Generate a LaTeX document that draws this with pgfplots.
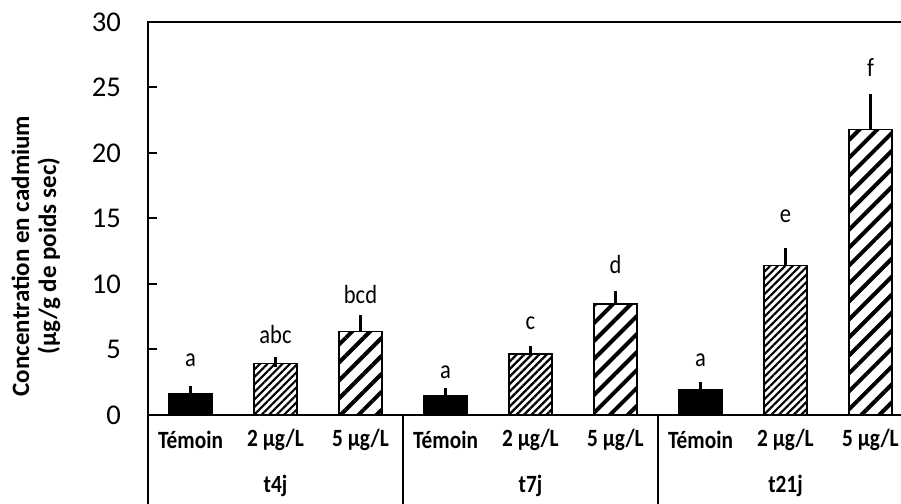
\documentclass[border=0pt]{standalone}
\usepackage{fontspec}
\setmainfont{Carlito}
\newfontfamily\narrowfont{Carlito}[FakeStretch=0.86]
\usepackage{pgfplots}
\pgfplotsset{compat=1.18}
\usetikzlibrary{patterns.meta}
\begin{document}
\begin{tikzpicture}
\useasboundingbox (0,0) rectangle (450.5pt,252pt);
\clip (0,0) rectangle (450.5pt,252pt);
\begin{axis}[
  at={(74pt,44.5pt)}, anchor=south west,
  width=382.5pt, height=196.5pt, scale only axis,
  xmin=0, xmax=9, ymin=0, ymax=30,
  ytick={0,5,...,30},
  ytick pos=left, tick align=inside, major tick length=4.5pt,
  xtick={0.5,1.5,...,8.5},
  xticklabels={Témoin,2 µg/L,5 µg/L,Témoin,2 µg/L,5 µg/L,Témoin,2 µg/L,5 µg/L},
  x tick style={draw=none},
  xticklabel style={anchor=center, yshift=-12.5pt, font=\narrowfont\bfseries\fontsize{12.4}{14}\selectfont},
  yticklabel style={xshift=-10pt, font=\fontsize{14.3}{16}\selectfont},
  /pgf/number format/assume math mode=true,
  axis line style={line width=1pt, black},
  y tick style={line width=1pt, black},
  clip=false,
]
\addplot[ybar, bar width=21.5pt, bar shift=0pt, draw=black, line width=0.75pt, fill=black,
  error bars/.cd, y dir=plus, y explicit,
  error bar style={line width=1.2pt, black, solid},
  error mark options={line width=1.2pt, black, mark size=2.5pt}]
  table[x=x, y=y, y error=e] {
x y e
0.5 1.66 0.15
3.5 1.49 0.17
6.5 1.92 0.20
};
\addplot[ybar, bar width=21.5pt, bar shift=0pt, draw=black, line width=0.75pt, fill=white,
  postaction={pattern={Lines[angle=45, distance=2.65pt, line width=1.1pt]}, pattern color=black},
  error bars/.cd, y dir=plus, y explicit,
  error bar style={line width=1.2pt, black, solid},
  error mark options={line width=1.2pt, black, mark size=2.5pt}]
  table[x=x, y=y, y error=e] {
x y e
1.5 3.95 0.12
4.5 4.66 0.23
7.5 11.41 0.94
};
\addplot[ybar, bar width=21.5pt, bar shift=0pt, draw=black, line width=0.75pt, fill=white,
  postaction={pattern={Lines[angle=45, distance=6.35pt, line width=2pt]}, pattern color=black},
  error bars/.cd, y dir=plus, y explicit,
  error bar style={line width=1.2pt, black, solid},
  error mark options={line width=1.2pt, black, mark size=2.5pt}]
  table[x=x, y=y, y error=e] {
x y e
2.5 6.38 0.89
5.5 8.47 0.63
8.5 21.8 2.33
};
\addplot[only marks, mark=none, nodes near coords, point meta=explicit symbolic,
  nodes near coords style={anchor=center, font=\narrowfont\fontsize{13.1}{15}\selectfont, black}]
  table[x=x, y=y, meta=l] {
x y l
0.5 4.15 a
1.5 6.18 abc
2.5 9.23 bcd
3.5 3.26 a
4.5 6.99 c
5.5 11.46 d
6.5 4.15 a
7.5 15.2 e
8.5 26.5 f
};
\draw[line width=1pt] (axis cs:0,0) -- ++(0,-44.5pt);
\draw[line width=1pt] (axis cs:3,0) -- ++(0,-44.5pt);
\draw[line width=1pt] (axis cs:6,0) -- ++(0,-44.5pt);
\draw[line width=1pt] (axis cs:9,0) -- ++(0,-44.5pt);
\node[font=\narrowfont\bfseries\fontsize{12.4}{14}\selectfont] at ([yshift=-35.5pt]axis cs:1.5,0) {t4j};
\node[font=\narrowfont\bfseries\fontsize{12.4}{14}\selectfont] at ([yshift=-35.5pt]axis cs:4.5,0) {t7j};
\node[font=\narrowfont\bfseries\fontsize{12.4}{14}\selectfont] at ([yshift=-35.5pt]axis cs:7.5,0) {t21j};
\end{axis}
\node[rotate=90, align=center, font=\bfseries\fontsize{12.5}{13.5}\selectfont] at (18pt,124pt)
  {Concentration en cadmium\\(µg/g de poids sec)};
\end{tikzpicture}
\end{document}
